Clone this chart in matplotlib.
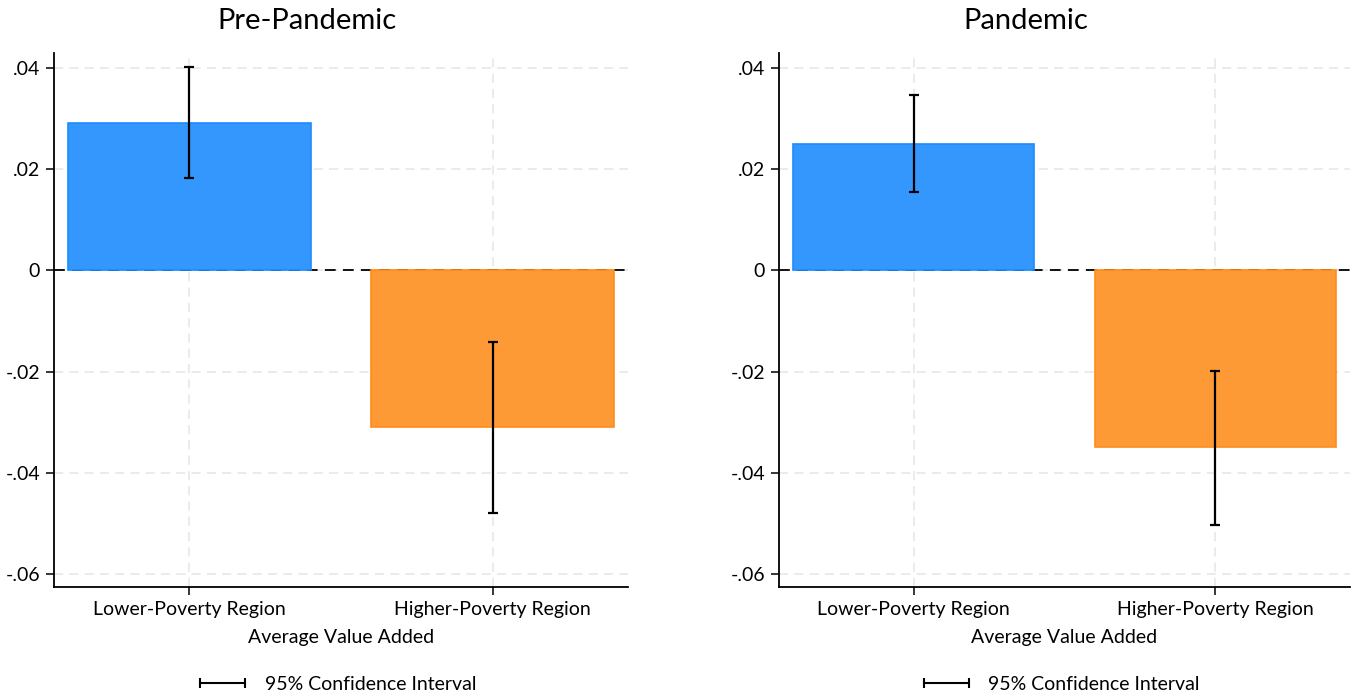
import numpy as np
import matplotlib
matplotlib.use('Agg')
import matplotlib.pyplot as plt
from matplotlib.lines import Line2D

plt.rcParams['font.family'] = ['Lato', 'DejaVu Sans']

# data
regions = ['Lower-Poverty Region', 'Higher-Poverty Region']
panels = ['Pre-Pandemic', 'Pandemic']
means = [[0.0291, -0.0309], [0.0251, -0.0349]]
ci_low = [[0.0182, -0.0479], [0.0156, -0.0503]]
ci_high = [[0.0402, -0.0141], [0.0348, -0.0198]]
yticks = [-0.06, -0.04, -0.02, 0, 0.02, 0.04]
ytick_labels = ['-.06', '-.04', '-.02', '0', '.02', '.04']

fill_colors = ['#3497fe', '#fe9a35']
edge_colors = ['#1a8cff', '#ff8c1a']
grid_col = '#e6e6e6'

fig = plt.figure(figsize=(13.53, 6.98), dpi=100)
ax_pos = [[0.0399, 0.159, 0.4243, 0.765], [0.5758, 0.159, 0.422, 0.765]]
title_x = [307 / 1353, 1026 / 1353]

for i, name in enumerate(panels):
    ax = fig.add_axes(ax_pos[i])
    x = np.arange(1, len(regions) + 1)
    m = np.array(means[i])
    lo = np.array(ci_low[i])
    hi = np.array(ci_high[i])

    ax.axhline(0, color='black', lw=1.3, ls=(0, (6, 4)), zorder=1)
    ax.bar(x, m, width=0.8, color=fill_colors, edgecolor=edge_colors, linewidth=1.2, zorder=2)
    ax.errorbar(x, m, yerr=[m - lo, hi - m], fmt='none', ecolor='black',
                elinewidth=1.6, capsize=3.6, capthick=1.6, zorder=3)

    ax.set_xlim(0.554, 2.446)
    ax.set_ylim(-0.0626, 0.043)
    ax.set_yticks(yticks)
    ax.set_yticklabels(ytick_labels)
    ax.set_xticks(x)
    ax.set_xticklabels(regions)
    ax.tick_params(axis='both', labelsize=14, length=6, width=1.1, color='black', pad=4)

    ax.grid(True, color=grid_col, ls=(0, (6, 4)), lw=1.1, zorder=0)
    ax.set_axisbelow(True)
    for side in ['top', 'right']:
        ax.spines[side].set_visible(False)
    for side in ['left', 'bottom']:
        ax.spines[side].set_linewidth(1.3)

    ax.set_xlabel('Average Value Added', fontsize=14, labelpad=8)

    handle = Line2D([], [], color='black', lw=1.5, marker='|', markersize=7, markeredgewidth=1.5)
    ax.legend([handle], ['95% Confidence Interval'], loc='center', bbox_to_anchor=(0.49, -0.182),
              numpoints=2, frameon=False, fontsize=14, handlelength=2.9, handletextpad=0.7)

    fig.text(title_x[i], 1 - 21 / 698, name, ha='center', va='center', fontsize=21)

fig.savefig('out.png', dpi=100)
